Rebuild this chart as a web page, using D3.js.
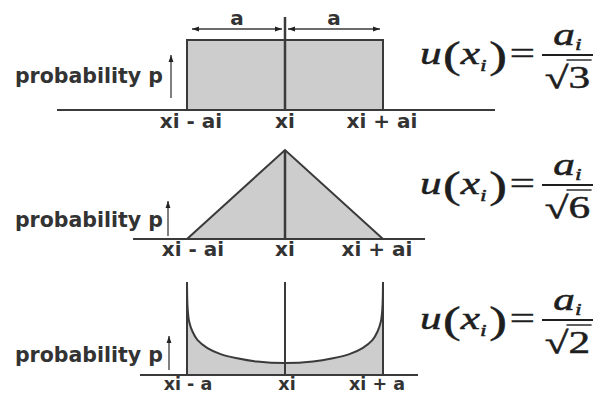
<!DOCTYPE html>
<html>
<head>
<meta charset="utf-8">
<script src="https://cdn.jsdelivr.net/npm/d3@7"></script>
<style>
  body { margin: 0; background: #fff; }
  svg { display: block; }
</style>
</head>
<body>
<svg id="chart" width="596" height="394"></svg>
<script>
// Position along each axis, in units of the half-width a (centre = 0)
const tickValues = [-1, 0, 1];

// Rectangular distribution
const rectX = [-1, 1];
const rectP = [1, 1];

// Triangular distribution
const triX = [-1, 0, 1];
const triP = [0, 1, 0];

// U-shaped distribution (relative height of the density)
const uX = [-1, -0.993, -0.977, -0.943, -0.892, -0.791, -0.657, -0.488, -0.286, 0,
            0.286, 0.488, 0.657, 0.791, 0.892, 0.943, 0.977, 0.993, 1];
const uP = [1, 0.71, 0.57, 0.465, 0.375, 0.29, 0.225, 0.18, 0.145, 0.128,
            0.145, 0.18, 0.225, 0.29, 0.375, 0.465, 0.57, 0.71, 1];

// Axis texts
const rectTicks = ["xi - ai", "xi", "xi + ai"];
const triTicks = ["xi - ai", "xi", "xi + ai"];
const uTicks = ["xi - a", "xi", "xi + a"];
const yTitle = "probability p";
const spanLabel = "a";
const divisors = ["3", "6", "2"];

const INK = "#3a3a3a";
const FILL = "#cdcdcd";
const SANS = "'DejaVu Sans', sans-serif";
const SERIF = "'Liberation Serif', 'Times New Roman', serif";

const svg = d3.select("#chart");
const x = d3.scaleLinear().domain([-1, 1]).range([187, 383]);

const defs = svg.append("defs");
defs.append("marker")
  .attr("id", "head")
  .attr("viewBox", "0 0 10 10")
  .attr("refX", 10).attr("refY", 5)
  .attr("markerUnits", "userSpaceOnUse")
  .attr("markerWidth", 7).attr("markerHeight", 7)
  .attr("orient", "auto-start-reverse")
  .append("path").attr("d", "M0,1.5L10,5L0,8.5Z").attr("fill", "#222");

// Panel layout
const panels = [
  { xs: rectX, ps: rectP, ticks: rectTicks, base: 110, top: 40, axis: [57, 495],
    arrow: [171, 98, 55], titleY: 83, tickY: 128, tickSize: 20, tickDx: [4, 0, -1], bar: 55, kind: "rect" },
  { xs: triX, ps: triP, ticks: triTicks, base: 239, top: 150, axis: [133, 425],
    arrow: [168, 236, 201], titleY: 227, tickY: 256, tickSize: 20, tickDx: [6, 0, -6], bar: 185, kind: "tri" },
  { xs: uX, ps: uP, ticks: uTicks, base: 375, top: 282, axis: [140, 418],
    arrow: [169, 370, 336], titleY: 362, tickY: 389.5, tickSize: 17.5, tickDx: [1, 2, -6], bar: 320, kind: "u" }
];

panels.forEach((p, i) => {
  const y = d3.scaleLinear().domain([0, 1]).range([p.base, p.top]);
  const g = svg.append("g");
  const pts = p.xs.map((v, k) => [v, p.ps[k]]);

  if (p.kind === "u") {
    const area = d3.area()
      .x(d => x(d[0])).y0(p.base).y1(d => y(d[1]))
      .curve(d3.curveCatmullRom.alpha(0.5));
    g.append("path").attr("d", area(pts)).attr("fill", FILL);
    const line = d3.line().x(d => x(d[0])).y(d => y(d[1]))
      .curve(d3.curveCatmullRom.alpha(0.5));
    g.append("path").attr("d", line(pts))
      .attr("fill", "none").attr("stroke", INK).attr("stroke-width", 2);
    [-1, 1].forEach(e => {
      g.append("line")
        .attr("x1", x(e)).attr("x2", x(e))
        .attr("y1", p.base).attr("y2", y(1))
        .attr("stroke", INK).attr("stroke-width", 2);
    });
  } else {
    const area = d3.area().x(d => x(d[0])).y0(p.base).y1(d => y(d[1]));
    g.append("path").attr("d", area(pts))
      .attr("fill", FILL).attr("stroke", INK).attr("stroke-width", 2)
      .attr("stroke-linejoin", "miter");
  }

  // Baseline
  g.append("line")
    .attr("x1", p.axis[0]).attr("x2", p.axis[1])
    .attr("y1", p.base).attr("y2", p.base)
    .attr("stroke", INK).attr("stroke-width", 2);

  // Centre line at xi
  g.append("line")
    .attr("x1", x(0)).attr("x2", x(0))
    .attr("y1", p.base).attr("y2", p.kind === "rect" ? 17 : y(1))
    .attr("stroke", INK).attr("stroke-width", p.kind === "u" ? 2 : 2.5);

  // Tick labels
  g.selectAll("text.tick").data(tickValues).join("text")
    .attr("class", "tick")
    .attr("x", (d, k) => x(d) + p.tickDx[k])
    .attr("y", p.tickY)
    .attr("text-anchor", "middle")
    .attr("font-family", SANS).attr("font-weight", "bold")
    .attr("font-size", p.tickSize).attr("fill", "#333")
    .text((d, k) => p.ticks[k]);

  // Probability arrow and title
  g.append("line")
    .attr("x1", p.arrow[0]).attr("x2", p.arrow[0])
    .attr("y1", p.arrow[1]).attr("y2", p.arrow[2])
    .attr("stroke", "#555").attr("stroke-width", 1.5)
    .attr("marker-end", "url(#head)");
  g.append("text")
    .attr("x", 163).attr("y", p.titleY)
    .attr("text-anchor", "end")
    .attr("font-family", SANS).attr("font-weight", "bold")
    .attr("font-size", 20.5).attr("fill", "#333")
    .text(yTitle);

  // Half-width dimension arrows above the rectangle
  if (p.kind === "rect") {
    const segs = [[x(-1) + 5, x(0) - 3], [x(0) + 3, x(1) - 3]];
    segs.forEach(s => {
      g.append("line")
        .attr("x1", s[0]).attr("x2", s[1]).attr("y1", 29).attr("y2", 29)
        .attr("stroke", INK).attr("stroke-width", 1.5)
        .attr("marker-start", "url(#head)").attr("marker-end", "url(#head)");
      g.append("text")
        .attr("x", (s[0] + s[1]) / 2).attr("y", 25)
        .attr("text-anchor", "middle")
        .attr("font-family", SANS).attr("font-weight", "bold")
        .attr("font-size", 20).attr("fill", "#333")
        .text(spanLabel);
    });
  }

  // Standard uncertainty formula u(xi) = ai / sqrt(k)
  drawFormula(p.bar, divisors[i]);
});

function drawFormula(barY, k) {
  const baseY = barY + 9;
  const f = svg.append("g");
  const inner = f.append("g");
  let cx = 0;
  function put(str, opts) {
    const t = inner.append("text")
      .attr("x", cx + (opts.dx || 0)).attr("y", opts.dy || 0)
      .attr("font-family", SERIF)
      .attr("font-style", opts.italic ? "italic" : "normal")
      .attr("font-size", opts.size).attr("fill", "#1e1e1e")
      .attr("stroke", "#1e1e1e").attr("stroke-width", 0.5)
      .text(str);
    cx += (opts.dx || 0) + t.node().getComputedTextLength() + (opts.after || 0);
    return t;
  }
  put("u", { italic: true, size: 31, after: 1 });
  put("(", { size: 38, dy: 4 });
  put("x", { italic: true, size: 31 });
  put("i", { italic: true, size: 17, dy: 7, after: 2 });
  put(")", { size: 38, dy: 4, after: 2 });
  put("=", { size: 32, dy: 0, after: 3 });

  // Fraction
  const fr = inner.append("g")
    .attr("stroke", "#1e1e1e").attr("stroke-width", 0.5);
  const num = fr.append("text").attr("y", -19)
    .attr("font-family", SERIF).attr("font-size", 31).attr("fill", "#1e1e1e");
  num.append("tspan").attr("font-style", "italic").text("a");
  num.append("tspan").attr("font-style", "italic").attr("font-size", 17).attr("dy", 5).text("i");
  const den = fr.append("text").attr("y", 24)
    .attr("font-family", SERIF).attr("font-size", 31).attr("fill", "#1e1e1e");
  den.append("tspan").text("\u221A");
  den.append("tspan").text(k);
  const nw = num.node().getComputedTextLength();
  const dw = den.node().getComputedTextLength();
  const w = Math.max(nw, dw) + 4;
  const x0 = cx + 2;
  num.attr("x", x0 + (w - nw) / 2);
  den.attr("x", x0 + (w - dw) / 2);
  fr.append("line")
    .attr("x1", x0).attr("x2", x0 + w)
    .attr("y1", -9).attr("y2", -9)
    .attr("stroke", "#1e1e1e").attr("stroke-width", 1.8);
  // Radical overline above the digit
  const rootW = den.node().getSubStringLength(0, 1);
  const dx0 = x0 + (w - dw) / 2;
  fr.append("line")
    .attr("x1", dx0 + rootW - 1.5).attr("x2", dx0 + dw + 1)
    .attr("y1", -4).attr("y2", -4)
    .attr("stroke", "#1e1e1e").attr("stroke-width", 1.4);
  cx = x0 + w;

  // Stretch horizontally to the formula's column
  const target = 173;
  f.attr("transform", `translate(420,${baseY})`);
  inner.attr("transform", `scale(${target / cx},1)`);
}
</script>
</body>
</html>
